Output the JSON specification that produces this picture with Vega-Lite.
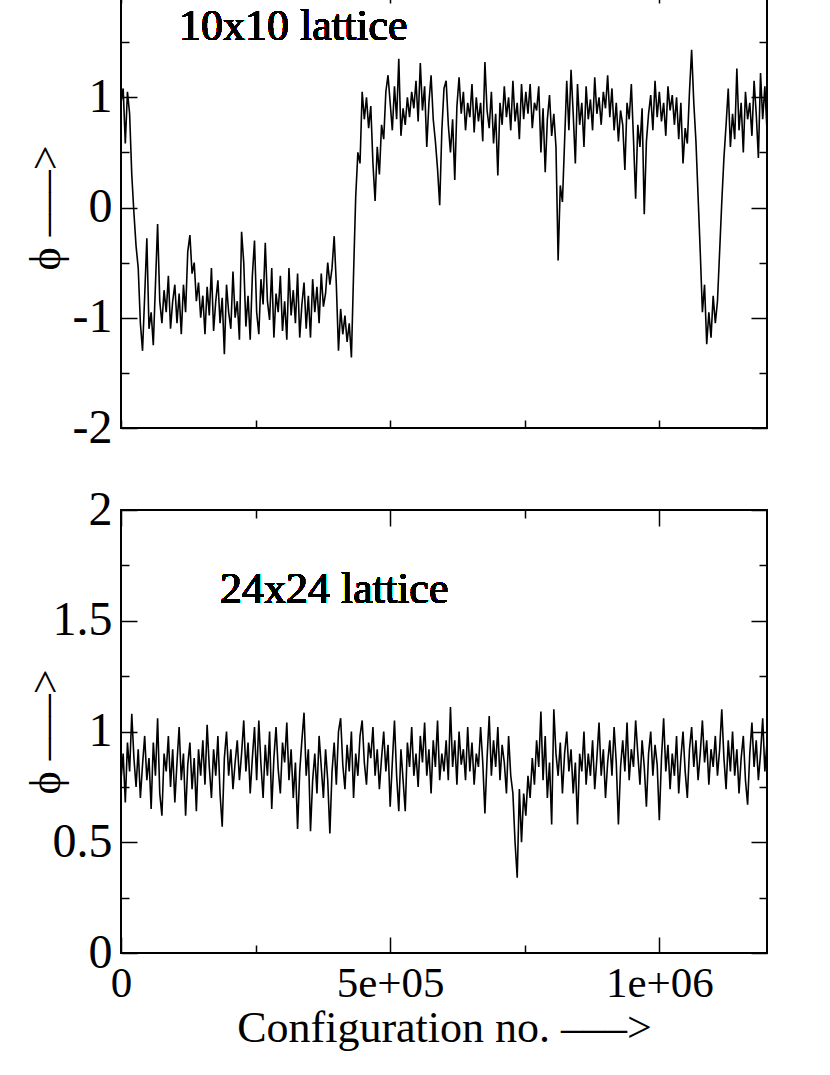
{
  "$schema": "https://vega.github.io/schema/vega-lite/v6.json",
  "padding": {"left": 23, "top": -38, "right": 0, "bottom": 0},
  "background": "white",
  "config": {
    "view": {"stroke": "black", "strokeWidth": 2},
    "font": "Liberation Serif",
    "axis": {"labelFont": "Liberation Serif", "labelFontSize": 43, "labelColor": "black", "tickColor": "black", "tickWidth": 1.5, "domain": false, "grid": false, "titleFont": "Liberation Serif", "titleFontSize": 44, "titleFontWeight": "normal", "titleColor": "black", "labelFlush": false, "labelOverlap": false}
  },
  "datasets": {
    "top": [
      {"n":0,"p":0.95},{"n":4000,"p":1.08},{"n":8000,"p":0.58},{"n":12000,"p":1.05},{"n":16000,"p":0.85},{"n":20000,"p":0.30},{"n":24000,"p":-0.05},{"n":28000,"p":-0.35},{"n":32000,"p":-0.55},{"n":36000,"p":-1.05},
      {"n":40000,"p":-1.30},{"n":44000,"p":-0.80},{"n":48000,"p":-0.28},{"n":52000,"p":-1.10},{"n":56000,"p":-0.95},{"n":60000,"p":-1.25},{"n":64000,"p":-0.70},{"n":68000,"p":-0.15},{"n":72000,"p":-0.85},{"n":76000,"p":-1.05},
      {"n":80000,"p":-0.75},{"n":84000,"p":-0.95},{"n":88000,"p":-0.62},{"n":92000,"p":-1.10},{"n":96000,"p":-0.85},{"n":100000,"p":-0.70},{"n":104000,"p":-1.05},{"n":108000,"p":-0.78},{"n":112000,"p":-1.15},{"n":116000,"p":-0.70},
      {"n":120000,"p":-0.95},{"n":124000,"p":-0.40},{"n":128000,"p":-0.25},{"n":132000,"p":-0.60},{"n":136000,"p":-0.50},{"n":140000,"p":-0.85},{"n":144000,"p":-0.68},{"n":148000,"p":-1.00},{"n":152000,"p":-0.80},{"n":156000,"p":-1.15},
      {"n":160000,"p":-0.72},{"n":164000,"p":-0.98},{"n":168000,"p":-0.55},{"n":172000,"p":-1.12},{"n":176000,"p":-0.85},{"n":180000,"p":-0.66},{"n":184000,"p":-1.05},{"n":188000,"p":-0.82},{"n":192000,"p":-1.33},{"n":196000,"p":-0.70},
      {"n":200000,"p":-0.95},{"n":204000,"p":-1.10},{"n":208000,"p":-0.58},{"n":212000,"p":-1.00},{"n":216000,"p":-0.85},{"n":220000,"p":-1.20},{"n":224000,"p":-0.22},{"n":228000,"p":-0.50},{"n":232000,"p":-1.08},{"n":236000,"p":-0.80},
      {"n":240000,"p":-1.20},{"n":244000,"p":-0.62},{"n":248000,"p":-0.30},{"n":252000,"p":-0.95},{"n":256000,"p":-1.15},{"n":260000,"p":-0.65},{"n":264000,"p":-0.88},{"n":268000,"p":-0.32},{"n":272000,"p":-0.85},{"n":276000,"p":-1.02},
      {"n":280000,"p":-0.55},{"n":284000,"p":-1.18},{"n":288000,"p":-0.78},{"n":292000,"p":-0.95},{"n":296000,"p":-0.62},{"n":300000,"p":-1.12},{"n":304000,"p":-0.85},{"n":308000,"p":-1.20},{"n":312000,"p":-0.55},{"n":316000,"p":-0.98},
      {"n":320000,"p":-0.75},{"n":324000,"p":-1.05},{"n":328000,"p":-0.60},{"n":332000,"p":-1.18},{"n":336000,"p":-0.88},{"n":340000,"p":-0.68},{"n":344000,"p":-1.10},{"n":348000,"p":-0.80},{"n":352000,"p":-1.18},{"n":356000,"p":-0.65},
      {"n":360000,"p":-0.95},{"n":364000,"p":-0.72},{"n":368000,"p":-1.05},{"n":372000,"p":-0.60},{"n":376000,"p":-0.90},{"n":380000,"p":-0.78},{"n":384000,"p":-0.50},{"n":388000,"p":-0.70},{"n":392000,"p":-0.55},{"n":396000,"p":-0.26},
      {"n":400000,"p":-0.70},{"n":404000,"p":-1.30},{"n":408000,"p":-0.92},{"n":412000,"p":-1.15},{"n":416000,"p":-0.98},{"n":420000,"p":-1.22},{"n":424000,"p":-1.05},{"n":428000,"p":-1.36},{"n":432000,"p":-0.60},{"n":436000,"p":0.10},
      {"n":440000,"p":0.50},{"n":444000,"p":0.40},{"n":448000,"p":1.05},{"n":452000,"p":0.80},{"n":456000,"p":1.00},{"n":460000,"p":0.72},{"n":464000,"p":0.92},{"n":468000,"p":0.40},{"n":472000,"p":0.06},{"n":476000,"p":0.55},
      {"n":480000,"p":0.30},{"n":484000,"p":0.75},{"n":488000,"p":0.62},{"n":492000,"p":1.05},{"n":496000,"p":1.20},{"n":500000,"p":0.95},{"n":504000,"p":0.70},{"n":508000,"p":1.10},{"n":512000,"p":0.80},{"n":516000,"p":1.35},
      {"n":520000,"p":0.65},{"n":524000,"p":0.90},{"n":528000,"p":0.75},{"n":532000,"p":1.00},{"n":536000,"p":0.82},{"n":540000,"p":1.05},{"n":544000,"p":0.90},{"n":548000,"p":1.15},{"n":552000,"p":0.78},{"n":556000,"p":1.31},
      {"n":560000,"p":0.88},{"n":564000,"p":1.10},{"n":568000,"p":0.55},{"n":572000,"p":0.95},{"n":576000,"p":1.20},{"n":580000,"p":0.80},{"n":584000,"p":0.60},{"n":588000,"p":0.35},{"n":592000,"p":0.02},{"n":596000,"p":0.70},
      {"n":600000,"p":1.08},{"n":604000,"p":1.15},{"n":608000,"p":0.75},{"n":612000,"p":0.50},{"n":616000,"p":0.80},{"n":620000,"p":0.25},{"n":624000,"p":0.92},{"n":628000,"p":1.18},{"n":632000,"p":0.85},{"n":636000,"p":1.05},
      {"n":640000,"p":0.70},{"n":644000,"p":0.95},{"n":648000,"p":0.82},{"n":652000,"p":1.12},{"n":656000,"p":0.68},{"n":660000,"p":1.00},{"n":664000,"p":0.78},{"n":668000,"p":0.95},{"n":672000,"p":0.60},{"n":676000,"p":1.32},
      {"n":680000,"p":0.88},{"n":684000,"p":0.72},{"n":688000,"p":1.05},{"n":692000,"p":0.58},{"n":696000,"p":0.85},{"n":700000,"p":0.29},{"n":704000,"p":0.95},{"n":708000,"p":0.75},{"n":712000,"p":1.10},{"n":716000,"p":0.82},
      {"n":720000,"p":1.00},{"n":724000,"p":0.70},{"n":728000,"p":1.15},{"n":732000,"p":0.78},{"n":736000,"p":0.95},{"n":740000,"p":0.62},{"n":744000,"p":1.12},{"n":748000,"p":0.80},{"n":752000,"p":1.05},{"n":756000,"p":0.85},
      {"n":760000,"p":1.12},{"n":764000,"p":0.72},{"n":768000,"p":0.95},{"n":772000,"p":0.88},{"n":776000,"p":1.10},{"n":780000,"p":0.50},{"n":784000,"p":0.90},{"n":788000,"p":0.32},{"n":792000,"p":0.80},{"n":796000,"p":1.02},
      {"n":800000,"p":0.65},{"n":804000,"p":0.85},{"n":808000,"p":0.55},{"n":812000,"p":-0.48},{"n":816000,"p":0.20},{"n":820000,"p":0.05},{"n":824000,"p":0.60},{"n":828000,"p":1.15},{"n":832000,"p":0.70},{"n":836000,"p":1.25},
      {"n":840000,"p":0.85},{"n":844000,"p":0.40},{"n":848000,"p":1.12},{"n":852000,"p":0.75},{"n":856000,"p":0.95},{"n":860000,"p":0.55},{"n":864000,"p":1.10},{"n":868000,"p":0.80},{"n":872000,"p":0.98},{"n":876000,"p":0.70},
      {"n":880000,"p":1.18},{"n":884000,"p":0.85},{"n":888000,"p":1.00},{"n":892000,"p":0.75},{"n":896000,"p":1.05},{"n":900000,"p":0.90},{"n":904000,"p":1.20},{"n":908000,"p":0.82},{"n":912000,"p":1.08},{"n":916000,"p":0.70},
      {"n":920000,"p":0.95},{"n":924000,"p":0.60},{"n":928000,"p":0.88},{"n":932000,"p":0.75},{"n":936000,"p":0.34},{"n":940000,"p":0.95},{"n":944000,"p":0.80},{"n":948000,"p":1.12},{"n":952000,"p":0.62},{"n":956000,"p":0.08},
      {"n":960000,"p":0.75},{"n":964000,"p":0.55},{"n":968000,"p":0.90},{"n":972000,"p":-0.06},{"n":976000,"p":0.60},{"n":980000,"p":0.85},{"n":984000,"p":1.02},{"n":988000,"p":0.70},{"n":992000,"p":1.15},{"n":996000,"p":0.82},
      {"n":1000000,"p":1.05},{"n":1004000,"p":0.78},{"n":1008000,"p":0.95},{"n":1012000,"p":0.65},{"n":1016000,"p":1.10},{"n":1020000,"p":0.88},{"n":1024000,"p":1.02},{"n":1028000,"p":0.75},{"n":1032000,"p":1.00},{"n":1036000,"p":0.62},
      {"n":1040000,"p":0.95},{"n":1044000,"p":0.40},{"n":1048000,"p":0.72},{"n":1052000,"p":0.58},{"n":1056000,"p":1.05},{"n":1060000,"p":1.43},{"n":1064000,"p":0.95},{"n":1068000,"p":0.60},{"n":1072000,"p":0.10},{"n":1076000,"p":-0.40},
      {"n":1080000,"p":-0.95},{"n":1084000,"p":-0.70},{"n":1088000,"p":-1.24},{"n":1092000,"p":-0.95},{"n":1096000,"p":-1.18},{"n":1100000,"p":-0.80},{"n":1104000,"p":-1.05},{"n":1108000,"p":-0.85},{"n":1112000,"p":-0.40},{"n":1116000,"p":0.05},
      {"n":1120000,"p":0.45},{"n":1124000,"p":0.75},{"n":1128000,"p":1.08},{"n":1132000,"p":0.55},{"n":1136000,"p":0.85},{"n":1140000,"p":0.62},{"n":1144000,"p":1.26},{"n":1148000,"p":0.70},{"n":1152000,"p":0.95},{"n":1156000,"p":0.50},
      {"n":1160000,"p":1.05},{"n":1164000,"p":0.80},{"n":1168000,"p":0.95},{"n":1172000,"p":0.65},{"n":1176000,"p":1.15},{"n":1180000,"p":0.85},{"n":1184000,"p":0.45},{"n":1188000,"p":1.22},{"n":1192000,"p":0.80},{"n":1196000,"p":1.10},
      {"n":1200000,"p":0.70}
    ],
    "bot": [
      {"n":0,"p":0.78},{"n":4000,"p":0.90},{"n":8000,"p":0.68},{"n":12000,"p":0.95},{"n":16000,"p":0.82},{"n":20000,"p":1.08},{"n":24000,"p":0.88},{"n":28000,"p":0.75},{"n":32000,"p":0.92},{"n":36000,"p":0.70},
      {"n":40000,"p":0.85},{"n":44000,"p":0.98},{"n":48000,"p":0.78},{"n":52000,"p":0.88},{"n":56000,"p":0.65},{"n":60000,"p":0.95},{"n":64000,"p":0.80},{"n":68000,"p":1.06},{"n":72000,"p":0.72},{"n":76000,"p":0.62},
      {"n":80000,"p":0.90},{"n":84000,"p":0.82},{"n":88000,"p":0.98},{"n":92000,"p":0.75},{"n":96000,"p":0.92},{"n":100000,"p":0.68},{"n":104000,"p":0.86},{"n":108000,"p":1.02},{"n":112000,"p":0.78},{"n":116000,"p":0.90},
      {"n":120000,"p":0.62},{"n":124000,"p":0.85},{"n":128000,"p":0.95},{"n":132000,"p":0.74},{"n":136000,"p":0.88},{"n":140000,"p":0.64},{"n":144000,"p":0.92},{"n":148000,"p":0.80},{"n":152000,"p":0.96},{"n":156000,"p":0.76},
      {"n":160000,"p":1.03},{"n":164000,"p":0.84},{"n":168000,"p":0.70},{"n":172000,"p":0.92},{"n":176000,"p":0.80},{"n":180000,"p":0.98},{"n":184000,"p":0.72},{"n":188000,"p":0.57},{"n":192000,"p":0.88},{"n":196000,"p":1.00},
      {"n":200000,"p":0.80},{"n":204000,"p":0.92},{"n":208000,"p":0.74},{"n":212000,"p":0.86},{"n":216000,"p":0.96},{"n":220000,"p":0.78},{"n":224000,"p":0.90},{"n":228000,"p":1.05},{"n":232000,"p":0.82},{"n":236000,"p":0.95},
      {"n":240000,"p":0.72},{"n":244000,"p":0.88},{"n":248000,"p":1.02},{"n":252000,"p":0.78},{"n":256000,"p":1.05},{"n":260000,"p":0.85},{"n":264000,"p":0.70},{"n":268000,"p":0.94},{"n":272000,"p":0.80},{"n":276000,"p":1.00},
      {"n":280000,"p":0.65},{"n":284000,"p":0.88},{"n":288000,"p":1.02},{"n":292000,"p":0.83},{"n":296000,"p":0.72},{"n":300000,"p":0.95},{"n":304000,"p":0.86},{"n":308000,"p":1.04},{"n":312000,"p":0.78},{"n":316000,"p":0.92},
      {"n":320000,"p":0.70},{"n":324000,"p":0.86},{"n":328000,"p":0.56},{"n":332000,"p":0.82},{"n":336000,"p":0.96},{"n":340000,"p":1.085},{"n":344000,"p":0.80},{"n":348000,"p":0.92},{"n":352000,"p":0.55},{"n":356000,"p":0.78},
      {"n":360000,"p":0.90},{"n":364000,"p":0.72},{"n":368000,"p":0.98},{"n":372000,"p":0.84},{"n":376000,"p":0.70},{"n":380000,"p":0.92},{"n":384000,"p":0.78},{"n":388000,"p":0.54},{"n":392000,"p":0.82},{"n":396000,"p":0.95},
      {"n":400000,"p":0.76},{"n":404000,"p":1.00},{"n":408000,"p":1.06},{"n":412000,"p":0.85},{"n":416000,"p":0.74},{"n":420000,"p":0.94},{"n":424000,"p":0.82},{"n":428000,"p":1.00},{"n":432000,"p":0.70},{"n":436000,"p":0.90},
      {"n":440000,"p":0.80},{"n":444000,"p":0.98},{"n":448000,"p":1.05},{"n":452000,"p":0.86},{"n":456000,"p":0.76},{"n":460000,"p":0.95},{"n":464000,"p":0.88},{"n":468000,"p":1.02},{"n":472000,"p":0.80},{"n":476000,"p":0.92},
      {"n":480000,"p":0.74},{"n":484000,"p":0.88},{"n":488000,"p":1.00},{"n":492000,"p":0.82},{"n":496000,"p":0.94},{"n":500000,"p":0.66},{"n":504000,"p":0.86},{"n":508000,"p":1.05},{"n":512000,"p":0.80},{"n":516000,"p":0.64},
      {"n":520000,"p":0.92},{"n":524000,"p":0.78},{"n":528000,"p":0.64},{"n":532000,"p":0.95},{"n":536000,"p":0.84},{"n":540000,"p":1.02},{"n":544000,"p":0.80},{"n":548000,"p":0.90},{"n":552000,"p":0.75},{"n":556000,"p":0.98},
      {"n":560000,"p":0.86},{"n":564000,"p":1.04},{"n":568000,"p":0.80},{"n":572000,"p":0.92},{"n":576000,"p":0.72},{"n":580000,"p":0.96},{"n":584000,"p":0.84},{"n":588000,"p":1.05},{"n":592000,"p":0.78},{"n":596000,"p":0.90},
      {"n":600000,"p":0.82},{"n":604000,"p":0.96},{"n":608000,"p":0.78},{"n":612000,"p":1.11},{"n":616000,"p":0.84},{"n":620000,"p":0.96},{"n":624000,"p":0.76},{"n":628000,"p":1.00},{"n":632000,"p":0.85},{"n":636000,"p":0.92},
      {"n":640000,"p":0.78},{"n":644000,"p":1.02},{"n":648000,"p":0.82},{"n":652000,"p":0.95},{"n":656000,"p":0.76},{"n":660000,"p":0.90},{"n":664000,"p":0.84},{"n":668000,"p":1.02},{"n":672000,"p":0.86},{"n":676000,"p":0.63},
      {"n":680000,"p":0.88},{"n":684000,"p":1.07},{"n":688000,"p":0.80},{"n":692000,"p":0.96},{"n":696000,"p":0.84},{"n":700000,"p":1.02},{"n":704000,"p":0.78},{"n":708000,"p":0.94},{"n":712000,"p":0.86},{"n":716000,"p":0.72},
      {"n":720000,"p":0.98},{"n":724000,"p":0.80},{"n":728000,"p":0.72},{"n":732000,"p":0.50},{"n":736000,"p":0.34},{"n":740000,"p":0.74},{"n":744000,"p":0.50},{"n":748000,"p":0.72},{"n":752000,"p":0.62},{"n":756000,"p":0.80},
      {"n":760000,"p":0.70},{"n":764000,"p":0.88},{"n":768000,"p":0.76},{"n":772000,"p":0.96},{"n":776000,"p":0.84},{"n":780000,"p":1.09},{"n":784000,"p":0.78},{"n":788000,"p":0.98},{"n":792000,"p":0.70},{"n":796000,"p":0.86},
      {"n":800000,"p":0.58},{"n":804000,"p":1.10},{"n":808000,"p":0.90},{"n":812000,"p":0.80},{"n":816000,"p":0.95},{"n":820000,"p":0.72},{"n":824000,"p":0.90},{"n":828000,"p":1.00},{"n":832000,"p":0.82},{"n":836000,"p":0.92},
      {"n":840000,"p":0.72},{"n":844000,"p":0.86},{"n":848000,"p":0.58},{"n":852000,"p":0.90},{"n":856000,"p":0.82},{"n":860000,"p":1.00},{"n":864000,"p":0.76},{"n":868000,"p":0.90},{"n":872000,"p":0.80},{"n":876000,"p":0.96},
      {"n":880000,"p":0.74},{"n":884000,"p":0.88},{"n":888000,"p":1.04},{"n":892000,"p":0.80},{"n":896000,"p":0.92},{"n":900000,"p":0.70},{"n":904000,"p":0.86},{"n":908000,"p":0.96},{"n":912000,"p":0.80},{"n":916000,"p":1.02},
      {"n":920000,"p":0.86},{"n":924000,"p":0.58},{"n":928000,"p":0.84},{"n":932000,"p":0.96},{"n":936000,"p":0.82},{"n":940000,"p":1.04},{"n":944000,"p":0.78},{"n":948000,"p":0.92},{"n":952000,"p":0.84},{"n":956000,"p":1.05},
      {"n":960000,"p":0.90},{"n":964000,"p":0.76},{"n":968000,"p":0.96},{"n":972000,"p":0.84},{"n":976000,"p":0.66},{"n":980000,"p":0.90},{"n":984000,"p":1.00},{"n":988000,"p":0.80},{"n":992000,"p":0.94},{"n":996000,"p":0.85},
      {"n":1000000,"p":0.60},{"n":1004000,"p":0.88},{"n":1008000,"p":1.06},{"n":1012000,"p":0.82},{"n":1016000,"p":0.94},{"n":1020000,"p":0.74},{"n":1024000,"p":0.90},{"n":1028000,"p":0.80},{"n":1032000,"p":0.98},{"n":1036000,"p":0.72},
      {"n":1040000,"p":0.88},{"n":1044000,"p":1.00},{"n":1048000,"p":0.82},{"n":1052000,"p":0.70},{"n":1056000,"p":0.92},{"n":1060000,"p":1.02},{"n":1064000,"p":0.84},{"n":1068000,"p":0.96},{"n":1072000,"p":0.78},{"n":1076000,"p":0.90},
      {"n":1080000,"p":1.05},{"n":1084000,"p":0.86},{"n":1088000,"p":0.96},{"n":1092000,"p":0.76},{"n":1096000,"p":0.92},{"n":1100000,"p":0.84},{"n":1104000,"p":0.98},{"n":1108000,"p":0.80},{"n":1112000,"p":0.92},{"n":1116000,"p":1.10},
      {"n":1120000,"p":0.88},{"n":1124000,"p":0.74},{"n":1128000,"p":0.96},{"n":1132000,"p":0.82},{"n":1136000,"p":1.00},{"n":1140000,"p":0.80},{"n":1144000,"p":0.92},{"n":1148000,"p":0.72},{"n":1152000,"p":0.88},{"n":1156000,"p":0.98},
      {"n":1160000,"p":0.78},{"n":1164000,"p":0.67},{"n":1168000,"p":0.90},{"n":1172000,"p":1.04},{"n":1176000,"p":0.84},{"n":1180000,"p":0.96},{"n":1184000,"p":0.78},{"n":1188000,"p":0.90},{"n":1192000,"p":1.06},{"n":1196000,"p":0.82},
      {"n":1200000,"p":0.95}
    ]
  },
  "bounds": "flush",
  "spacing": 82,
  "vconcat": [
    {
      "width": 646,
      "height": 441,
      "data": {"name": "top"},
      "resolve": {"axis": {"x": "independent", "y": "independent"}},
      "layer": [
        {
          "mark": {"type": "line", "color": "black", "strokeWidth": 1.6},
          "encoding": {
            "x": {"field": "n", "type": "quantitative", "scale": {"domain": [0, 1200000], "nice": false, "zero": false},
                  "axis": {"orient": "bottom", "values": [0, 250000, 500000, 750000, 1000000], "tickSize": -8, "labels": false, "title": null}},
            "y": {"field": "p", "type": "quantitative", "scale": {"domain": [-2, 2], "nice": false, "zero": false},
                  "axis": {"orient": "left", "values": [-2, -1, 0, 1, 2], "tickSize": -16, "labelPadding": 25, "labelFontSize": 48, "labelExpr": "datum.value == 2 ? '' : (datum.value < 0 ? '-' : '') + abs(datum.value)", "title": "ϕ –––>", "titlePadding": 4}}
          }
        },
        {
          "mark": {"type": "line", "strokeOpacity": 0},
          "encoding": {
            "x": {"field": "n", "type": "quantitative", "axis": {"orient": "top", "values": [0, 500000, 1000000], "tickSize": -16, "labels": false, "title": null}},
            "y": {"field": "p", "type": "quantitative", "axis": {"orient": "left", "values": [-1.5, -0.5, 0.5, 1.5], "tickSize": -8, "labels": false, "title": null}}
          }
        },
        {
          "mark": {"type": "line", "strokeOpacity": 0},
          "encoding": {
            "x": {"field": "n", "type": "quantitative", "axis": {"orient": "top", "values": [250000, 750000], "tickSize": -8, "labels": false, "title": null}},
            "y": {"field": "p", "type": "quantitative", "axis": {"orient": "right", "values": [-2, -1, 0, 1, 2], "tickSize": -16, "labels": false, "title": null}}
          }
        },
        {
          "mark": {"type": "line", "strokeOpacity": 0},
          "encoding": {
            "x": {"field": "n", "type": "quantitative", "axis": null},
            "y": {"field": "p", "type": "quantitative", "axis": {"orient": "right", "values": [-1.5, -0.5, 0.5, 1.5], "tickSize": -8, "labels": false, "title": null}}
          }
        },
        {
          "mark": {"type": "text", "font": "Liberation Serif", "fontSize": 44, "color": "black", "align": "center", "baseline": "middle"},
          "encoding": {
            "x": {"datum": 320000, "type": "quantitative", "axis": null},
            "y": {"datum": 1.64, "type": "quantitative", "axis": null},
            "text": {"value": "10x10 lattice"}
          }
        }
      ]
    },
    {
      "width": 646,
      "height": 443,
      "data": {"name": "bot"},
      "resolve": {"axis": {"x": "independent", "y": "independent"}},
      "layer": [
        {
          "mark": {"type": "line", "color": "black", "strokeWidth": 1.6},
          "encoding": {
            "x": {"field": "n", "type": "quantitative", "scale": {"domain": [0, 1200000], "nice": false, "zero": false},
                  "axis": {"orient": "bottom", "values": [0, 500000, 1000000], "tickSize": -16, "labelPadding": 25, "labelExpr": "datum.value == 0 ? '0' : datum.value == 500000 ? '5e+05' : '1e+06'", "title": "Configuration no. –––>", "titlePadding": 1}},
            "y": {"field": "p", "type": "quantitative", "scale": {"domain": [0, 2], "nice": false, "zero": false},
                  "axis": {"orient": "left", "values": [0, 0.5, 1, 1.5, 2], "tickSize": -16, "labelPadding": 25, "labelFontSize": 48, "labelExpr": "'' + datum.value", "title": "ϕ –––>", "titlePadding": -16}}
          }
        },
        {
          "mark": {"type": "line", "strokeOpacity": 0},
          "encoding": {
            "x": {"field": "n", "type": "quantitative", "axis": {"orient": "bottom", "values": [250000, 750000], "tickSize": -8, "labels": false, "title": null}},
            "y": {"field": "p", "type": "quantitative", "axis": {"orient": "left", "values": [0.25, 0.75, 1.25, 1.75], "tickSize": -8, "labels": false, "title": null}}
          }
        },
        {
          "mark": {"type": "line", "strokeOpacity": 0},
          "encoding": {
            "x": {"field": "n", "type": "quantitative", "axis": {"orient": "top", "values": [0, 500000, 1000000], "tickSize": -16, "labels": false, "title": null}},
            "y": {"field": "p", "type": "quantitative", "axis": {"orient": "right", "values": [0, 0.5, 1, 1.5, 2], "tickSize": -16, "labels": false, "title": null}}
          }
        },
        {
          "mark": {"type": "line", "strokeOpacity": 0},
          "encoding": {
            "x": {"field": "n", "type": "quantitative", "axis": {"orient": "top", "values": [250000, 750000], "tickSize": -8, "labels": false, "title": null}},
            "y": {"field": "p", "type": "quantitative", "axis": {"orient": "right", "values": [0.25, 0.75, 1.25, 1.75], "tickSize": -8, "labels": false, "title": null}}
          }
        },
        {
          "mark": {"type": "text", "font": "Liberation Serif", "fontSize": 44, "color": "black", "align": "center", "baseline": "middle"},
          "encoding": {
            "x": {"datum": 396000, "type": "quantitative", "axis": null},
            "y": {"datum": 1.64, "type": "quantitative", "axis": null},
            "text": {"value": "24x24 lattice"}
          }
        }
      ]
    }
  ]
}
